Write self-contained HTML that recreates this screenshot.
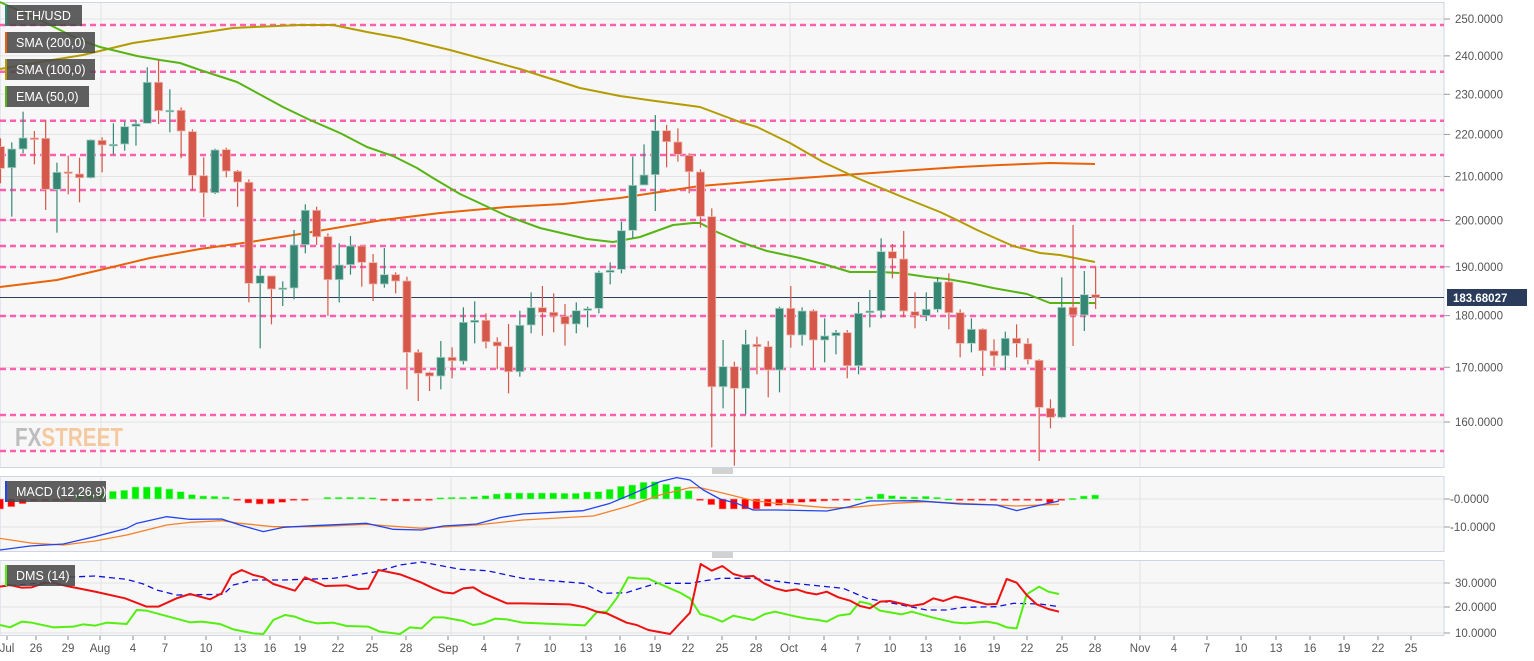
<!DOCTYPE html>
<html><head><meta charset="utf-8"><style>
html,body{margin:0;padding:0;background:#fff;}
svg{display:block;font-family:"Liberation Sans",sans-serif;}
</style></head><body>
<svg id="s" width="1534" height="661" xmlns="http://www.w3.org/2000/svg"></svg>
<script>
const S=document.getElementById('s');let h='';
const add=t=>h+=t;
add('<rect x="0" y="0" width="1534" height="661" fill="#fff"/>');
add('<rect x="0" y="2.5" width="1444" height="465" fill="#f7f7f7" stroke="#cfd5e6"/>');
add('<rect x="0" y="476.5" width="1444" height="75" fill="#f7f7f7" stroke="#cfd5e6"/>');
add('<rect x="0" y="560.5" width="1444" height="75" fill="#f7f7f7" stroke="#cfd5e6"/>');
const Y=p=>19+903*Math.log(250/p);
const lab=[250,240,230,220,210,200,190,180,170,160];
lab.forEach(p=>{const y=Y(p);add(`<line x1="0" x2="1444" y1="${y}" y2="${y}" stroke="#e3e3e3"/>`);
add(`<line x1="1444" x2="1450" y1="${y}" y2="${y}" stroke="#999"/>`);
add(`<text x="1455" y="${y+4}" font-size="11.5" fill="#555">${p}.0000</text>`);});
[101,451,790,1140].forEach(x=>{[[3,467],[477,551],[561,635]].forEach(r=>add(`<line x1="${x}" x2="${x}" y1="${r[0]}" y2="${r[1]}" stroke="#e3e3e3"/>`));});
[[499,'-0.0000'],[527,'-10.0000']].forEach(a=>{add(`<line x1="0" x2="1444" y1="${a[0]}" y2="${a[0]}" stroke="#e3e3e3"/><line x1="1444" x2="1450" y1="${a[0]}" y2="${a[0]}" stroke="#999"/><text x="1450" y="${a[0]+4}" font-size="11.5" fill="#555">${a[1]}</text>`);});
[[583,'30.0000'],[607,'20.0000'],[633,'10.0000']].forEach(a=>{add(`<line x1="0" x2="1444" y1="${a[0]}" y2="${a[0]}" stroke="#e3e3e3"/><line x1="1444" x2="1450" y1="${a[0]}" y2="${a[0]}" stroke="#999"/><text x="1455" y="${a[0]+4}" font-size="11.5" fill="#555">${a[1]}</text>`);});
[25,71.7,120.7,155,190,220,246,267,316,369,415,451].forEach(y=>add(`<line x1="0" x2="1444" y1="${y}" y2="${y}" stroke="#ff4fa8" stroke-width="2.5" stroke-dasharray="6,4" opacity="0.9"/>`));
add('<line x1="0" x2="1444" y1="297.5" y2="297.5" stroke="#2d3d5c" stroke-width="1"/>');
add('<text x="15" y="446" font-size="26" font-weight="bold" textLength="108" lengthAdjust="spacingAndGlyphs" fill="#bdbdbd">FX<tspan fill="#f5c9a0">STREET</tspan></text>');
const pl=(pts,c,w,ex='')=>add(`<polyline fill="none" stroke="${c}" stroke-width="${w}" stroke-linejoin="round" ${ex} points="${pts.map(p=>p.join(',')).join(' ')}"/>`);
pl([[0,287],[57,280],[100,270],[150,258],[200,249],[250,242],[300,234],[383,220],[440,213],[507,207],[563,204],[620,198],[653,193],[700,186],[773,180],[900,171],[960,167],[1000,165],[1050,163],[1095,164]],'#e8620a',2);
pl([[0,69],[40,62],[83,55],[133,43],[167,38],[233,28],[300,25],[333,25],[367,32],[400,38],[450,50],[520,69],[580,88],[620,96],[648,100],[700,107],[740,122],[757,127],[790,143],[823,162],[857,178],[900,196],[910,200],[940,212],[957,220],[977,230],[1013,246],[1040,253],[1060,255],[1095,262]],'#b39b00',2);
pl([[0,2],[40,20],[80,40],[100,47],[137,56],[160,60],[180,63],[200,70],[237,82],[283,107],[310,120],[340,133],[367,147],[393,156],[417,168],[433,178],[460,194],[473,200],[507,216],[540,228],[587,239],[613,242],[640,237],[673,225],[693,223],[700,223],[717,232],[740,242],[767,251],[800,258],[827,265],[850,272],[880,272],[900,273],[927,277],[947,279],[970,283],[993,288],[1027,294],[1050,303],[1067,303],[1095,303]],'#58b414',2);
const s3=[['r',290,355,265,400],['g',297,353,277,500],['g',264,297,185,310],['r',264,267,243,343],['r',265,418,210,480],['g',367,418,338,548],['r',366,370,317,433],['r',372,383,323,457],['g',270,383,268,385],['r',271,285,262,367],['g',283,286,220,313],['g',230,282,215,302],['g',222,229,210,287],['g',97,220,52,220],['r',97,182,30,222],['g',181,184,118,247],['r',181,243,172,325],['r',245,376,238,422],['r',377,428,322,502],['g',300,428,296,432],['r',299,363,293,382],['r',364,396,360,470],['r',397,700,388,757],['g',677,700,655,895],['r',678,717,678,823],['g',714,718,694,768],['g',585,714,540,748],['g',481,584,463,610],['r',481,560,470,585],['r',560,689,550,797],['g',645,689,580,757],['g',588,644,558,674],['r',588,637,586,710],['r',638,702,612,753],['g',674,702,594,713],['r',674,693,667,730],['r',693,907,680,1018],['r',907,970,898,1053],['r',968,978,965,1023],['g',922,978,873,1018],['r',922,932,892,985]];
const s4=[['g',667,783,622,793],['g',661,667,604,730],['r',661,725,640,745],['r',726,738,712,808],['r',740,815,672,880],['g',676,815,632,830],['g',623,675,577,700],['r',623,637,558,707],['r',637,648,580,697],['r',649,672,612,737],['g',632,672,607,700],['g',626,631,620,682],['g',518,625,512,640],['g',511,517,487,553],['g',392,508,365,520],['g',256,391,170,415],['g',225,255,133,255],['g',92,224,45,333],['r',92,125,75,202],['r',126,163,85,185],['r',166,215,160,280],['r',216,349,208,383],['r',350,860,325,1042],['g',800,860,720,925],['r',800,865,785,1097],['g',733,865,690,943],['r',733,740,710,823],['r',740,810,723,892],['g',625,810,620,877],['r',625,705,558,743],['g',633,705,622,737],['r',633,720,628,803],['g',708,720,655,787],['g',698,707,690,763],['r',698,797,690,835],['g',640,797,606,823],['g',633,638,570,682],['g',455,632,415,655],['r',455,475,432,535]];
const s5=[['r',177,333,93,352],['r',335,347,277,385],['g',328,347,277,363],['g',246,328,232,337],['r',246,338,220,388],['r',338,430,328,472],['g',388,430,355,457],['r',388,452,385,528],['r',453,467,418,500],['g',415,467,395,510],['r',415,430,373,472],['r',431,478,415,493],['r',481,622,478,783],['r',625,652,598,685],['g',322,652,232,655],['r',322,345,75,438],['g',284,345,213,393],['r',284,292,200,327]];
const C=[];s3.forEach(c=>C.push([c[0],50+c[1]/3,50+c[2]/3,50+c[3]/3,50+c[4]/3]));
s4.forEach(c=>C.push([c[0],100+c[1]/3,100+c[2]/3,100+c[3]/3,100+c[4]/3]));
s5.forEach(c=>C.push([c[0],200+c[1]/3,200+c[2]/3,200+c[3]/3,200+c[4]/3]));
C.forEach((c,i)=>{const x=i*11.29+0.5;const f=c[0]=='g'?'#358774':'#d5584a';const st=c[0]=='g'?'#a9d0c4':'#efb3a9';
add(`<line x1="${x}" x2="${x}" y1="${c[3]}" y2="${c[4]}" stroke="${f}" stroke-width="1.2"/>`);
const hh=Math.max(c[2]-c[1],1.5);add(`<rect x="${x-4}" y="${c[1]}" width="8" height="${hh}" fill="${f}" stroke="${st}" stroke-width="0.8"/>`);});
add('<rect x="1447" y="289" width="80" height="17" fill="#2a3b5c"/><text x="1453" y="302" font-size="11.5" font-weight="bold" fill="#fff">183.68027</text>');
const hv=[-30,-23,-14,-5,-5,-4,-2,17,17,20,23,26,36,36,36,30,22,13,9,8,6,-4,-12,-15,-14,-10,-3,-1,0,5,5,5,5,4,-4,-6,-6,-5,-1,4,5,5,7,10,15,18,18,18,18,18,17,17,21,22,29,38,42,50,52,44,37,25,-3,-17,-30,-30,-30,-30,-22,-19,-12,-10,-8,-6,-4,-2,1,7,15,10,7,6,8,5,1,-1,-3,-3,-3,-3,-3,-3,-5,-12,-1,2,9,12];
hv.forEach((v,i)=>{const x=i*11.29;const hgt=Math.abs(v)/3;if(hgt<0.3)return;const y=v>0?499-hgt:499;add(`<rect x="${x-3.5}" y="${y}" width="7" height="${Math.max(hgt,1.5)}" fill="${v>0?'#00ee00':'#ff0000'}" stroke="${v>0?'#9df59d':'#ff9d9d'}" stroke-width="0.6"/>`);});
const cv=(a,ox)=>a.map(p=>[ox+p[0]/3,470+p[1]/3]);
const mb=cv([[0,240],[90,228],[190,222],[285,200],[380,175],[410,160],[500,140],[570,148],[665,147],[720,165],[790,185],[850,172],[940,167],[1100,160],[1180,178],[1265,180],[1330,168],[1430,162],[1500,143],[1568,132]],0).concat(cv([[70,122],[150,100],[210,75],[300,35],[350,23],[390,30],[430,60],[480,87],[530,100],[580,120],[650,120],[800,123],[870,110],[930,93],[1070,92],[1200,102],[1310,105],[1370,122],[1420,110],[1497,93]],560));
const mo=cv([[0,205],[100,220],[190,225],[285,213],[380,195],[500,165],[570,157],[665,152],[720,160],[820,170],[940,170],[1100,163],[1265,175],[1430,165],[1568,150]],0).concat(cv([[100,138],[200,110],[300,75],[390,53],[420,53],[500,72],[580,92],[650,100],[800,113],[870,113],[1000,100],[1100,95],[1370,108],[1497,103]],560));
pl(mo,'#f5822a',1.3);pl(mb,'#2244ee',1.3);
const dr=cv([[0,350],[30,345],[65,353],[95,352],[130,340],[160,338],[200,348],[285,365],[375,385],[440,410],[475,410],[530,385],[570,372],[630,388],[665,370],[695,315],[725,300],[760,315],[790,322],[820,342],[885,362],[915,322],[975,348],[1040,346],[1075,357],[1105,356],[1135,300],[1200,313],[1265,338],[1300,355],[1330,367],[1360,370],[1390,355],[1420,352],[1450,370],[1520,400],[1568,400]],0).concat(cv([[30,403],[75,412],[110,425],[140,430],[200,458],[230,465],[265,480],[330,492],[390,428],[422,282],[455,302],[487,288],[520,312],[550,320],[580,318],[612,340],[645,355],[677,363],[710,358],[740,368],[770,373],[800,365],[835,382],[870,392],[900,408],[930,415],[960,395],[990,393],[1055,408],[1090,402],[1120,385],[1150,393],[1185,380],[1215,386],[1280,403],[1310,402],[1340,327],[1370,338],[1400,375],[1430,403],[1465,417],[1497,425]],560));
const dg=cv([[0,465],[30,472],[65,455],[95,458],[160,472],[220,470],[250,463],[285,467],[320,458],[380,462],[410,420],[440,422],[570,457],[605,455],[660,462],[700,478],[760,490],[790,492],[820,450],[855,435],[885,440],[915,452],[950,460],[1000,458],[1040,468],[1105,470],[1140,485],[1200,492],[1230,472],[1265,475],[1300,442],[1330,442],[1390,453],[1420,465],[1450,460],[1485,446],[1520,448],[1568,458]],0).concat(cv([[75,466],[110,427],[140,425],[170,385],[205,322],[230,325],[265,326],[300,342],[360,368],[390,385],[420,432],[455,442],[487,455],[520,437],[580,450],[615,432],[645,425],[710,440],[740,446],[775,450],[800,455],[835,437],[870,432],[900,395],[930,402],[960,422],[1025,433],[1055,425],[1120,443],[1180,457],[1215,460],[1280,455],[1310,460],[1340,472],[1370,475],[1400,373],[1437,350],[1465,365],[1497,372]],560));
const db=cv([[0,350],[130,338],[190,322],[285,318],[380,328],[430,342],[470,360],[530,375],[670,373],[700,345],[760,330],[850,330],[1000,325],[1130,305],[1200,285],[1265,276],[1380,298],[1460,302],[1568,325]],0).concat(cv([[70,340],[100,355],[130,370],[200,368],[230,358],[290,340],[390,340],[430,333],[480,325],[580,325],[700,340],[850,355],[920,385],[1000,400],[1100,420],[1160,420],[1210,412],[1310,410],[1360,400],[1440,402],[1497,410]],560));
pl(db,'#1010dd',1.3,'stroke-dasharray="6,4"');pl(dg,'#55ee11',2);pl(dr,'#ee1111',2);
const lg=(x,y,w,t,c)=>add(`<rect x="${x}" y="${y}" width="${w}" height="21" fill="#4a4a4a" opacity="0.88"/><rect x="${x}" y="${y}" width="2" height="21" fill="${c}"/><text x="${x+11}" y="${y+15}" font-size="12.5" fill="#fff">${t}</text>`);
lg(5,5,77,'ETH/USD','#2e8b72');lg(5,32,90,'SMA (200,0)','#e8620a');lg(5,59,90,'SMA (100,0)','#b39b00');lg(5,86,84,'EMA (50,0)','#58b414');
lg(5,481,101,'MACD (12,26,9)','#2244ee');lg(5,565,70,'DMS (14)','#55ee11');
[469,553].forEach(y=>add(`<g stroke="#888" stroke-width="0.8"><line x1="712" x2="733" y1="${y}" y2="${y}"/><line x1="712" x2="733" y1="${y+2}" y2="${y+2}"/><line x1="712" x2="733" y1="${y+4}" y2="${y+4}"/></g>`));
const xl=[['Jul',7],['26',36],['29',68],['Aug',100],['4',133],['7',165],['10',206],['13',240],['16',270],['19',300],['22',338],['25',372],['28',406],['Sep',448],['4',484],['7',518],['10',550],['13',586],['16',620],['19',655],['22',688],['25',722],['28',756],['Oct',789],['4',824],['7',858],['10',890],['13',926],['16',960],['19',994],['22',1027],['25',1062],['28',1095],['Nov',1140],['4',1174],['7',1207],['10',1241],['13',1276],['16',1310],['19',1344],['22',1378],['25',1411]];
xl.forEach(a=>{add(`<line x1="${a[1]}" x2="${a[1]}" y1="636" y2="640" stroke="#888"/><text x="${a[1]}" y="652" font-size="11.5" fill="#555" text-anchor="middle">${a[0]}</text>`);});
S.innerHTML=h;
</script>
</body></html>
